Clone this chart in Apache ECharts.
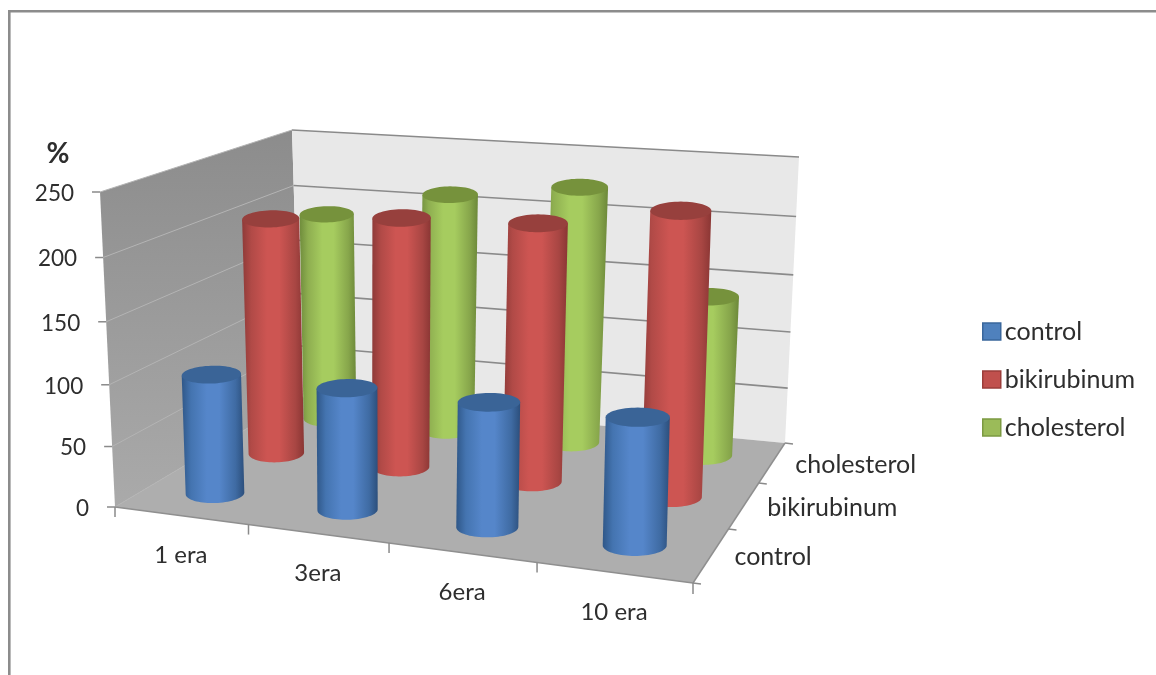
<!DOCTYPE html>
<html>
<head>
<meta charset="utf-8">
<style>html,body{margin:0;padding:0;background:#fff}#chart{width:1156px;height:675px}</style>
<script src="https://cdn.jsdelivr.net/npm/echarts@6/dist/echarts.min.js"></script>
</head>
<body>
<div id="chart"></div>
<script>
// Values
const eraLabels = ['1 era', '3era', '6era', '10 era'];
const seriesNames = ['control', 'bikirubinum', 'cholesterol'];
const control = [99, 99, 99, 99];
const bikirubinum = [203, 211, 214, 231];
const cholesterol = [187, 211, 224, 139];
const valueTicks = [0, 50, 100, 150, 200, 250];

// Corners of the box on the page: floor and top plane, front-left first, anticlockwise seen from above
const FLOOR = [[115, 507], [693, 583], [785, 443], [300, 397]];
const ROOF = [[100, 192], [701, 231], [799, 157], [292, 130]];
const VALUE_MAX = 250;

const FONT = 'Lato, "Open Sans", sans-serif';
const TEXT = '#2e2e2e';
const PALETTE = {
  control: { l: '#2f5788', s: '#4474b0', m: '#5586ca', t: '#3f6ba3', r: '#2c4f7c', cap: '#3a6497', box: '#4f81bd', edge: '#3a679c' },
  bikirubinum: { l: '#8e3a38', s: '#b14a47', m: '#cd5552', t: '#a84643', r: '#8a3634', cap: '#97403d', box: '#c0504d', edge: '#9b3d3a' },
  cholesterol: { l: '#6f8c3c', s: '#8eae50', m: '#a6cc5f', t: '#87a64b', r: '#6c8839', cap: '#76923c', box: '#9bbb59', edge: '#7c9a42' }
};

// Maps the unit square on to a quadrilateral
function quadMap(q) {
  const [[x0, y0], [x1, y1], [x2, y2], [x3, y3]] = q;
  const dx1 = x1 - x2, dx2 = x3 - x2, sx = x0 - x1 + x2 - x3;
  const dy1 = y1 - y2, dy2 = y3 - y2, sy = y0 - y1 + y2 - y3;
  const det = dx1 * dy2 - dx2 * dy1;
  const g = (sx * dy2 - dx2 * sy) / det;
  const h = (dx1 * sy - sx * dy1) / det;
  const a = x1 - x0 + g * x1, b = x3 - x0 + h * x3;
  const d = y1 - y0 + g * y1, e = y3 - y0 + h * y3;
  return (u, v) => {
    const w = g * u + h * v + 1;
    return [(a * u + b * v + x0) / w, (d * u + e * v + y0) / w];
  };
}
const floorAt = quadMap(FLOOR);
const roofAt = quadMap(ROOF);

// u along the categories, v into the depth, t is the height as a share of the value axis
function project(u, v, t) {
  // Evens out the category spacing towards the front, less so on the top plane
  const bend = u * (1 - u) * (1 - v);
  const f = floorAt(u + 0.05 * bend, v), r = roofAt(u + 0.02 * bend, v);
  const s = t - 0.05 * t * (1 - t);   // heights are foreshortened a little towards the floor
  return [f[0] + (r[0] - f[0]) * s, f[1] + (r[1] - f[1]) * s];
}

// Reads the share of the hidden axes that a data pair occupies
function axisShare(api, params, category, value) {
  const cs = params.coordSys;
  return {
    u: (api.coord([category, 0])[0] - cs.x) / cs.width,
    t: (cs.y + cs.height - api.coord([0, value])[1]) / cs.height
  };
}

function ellipsePoint(c, rx, ry, tilt, a) {
  const ex = rx * Math.cos(a), ey = ry * Math.sin(a);
  return [c[0] + ex * Math.cos(tilt) - ey * Math.sin(tilt), c[1] + ex * Math.sin(tilt) + ey * Math.cos(tilt)];
}

function ellipseArc(c, rx, ry, tilt, from, to, n) {
  const pts = [];
  for (let k = 0; k <= n; k++) pts.push(ellipsePoint(c, rx, ry, tilt, from + (to - from) * k / n));
  return pts;
}

function cylinderRenderer(depthIndex, colours) {
  const v = (depthIndex + 0.5) / seriesNames.length;
  const halfCell = 0.5 / eraLabels.length;
  return function (params, api) {
    const { u, t } = axisShare(api, params, api.value(0), api.value(1));
    const base = project(u, v, 0), top = project(u, v, t);
    const radius = (at) => {
      const a = project(u - halfCell, v, at), b = project(u + halfCell, v, at);
      return (14 + 0.12 * Math.hypot(b[0] - a[0], b[1] - a[1])) * (1 - 0.06 * v);
    };
    const rb = radius(0), rt = radius(t);
    const tilt = -0.055 * Math.max(0, 1 - top[0] / 560);
    const lower = ellipseArc(base, rb, rb * 0.33, tilt, Math.PI, 0, 36);
    const cap = ellipseArc(top, rt, rt * 0.3, tilt, 0, Math.PI * 2, 64);
    const topLeft = ellipsePoint(top, rt, rt * 0.3, tilt, Math.PI);
    const topRight = ellipsePoint(top, rt, rt * 0.3, tilt, 0);
    const body = [topLeft].concat(lower, [topRight]);
    return {
      type: 'group',
      children: [
        {
          type: 'polygon',
          shape: { points: body },
          style: {
            fill: {
              type: 'linear', x: 0, y: 0, x2: 1, y2: 0,
              colorStops: [
                { offset: 0, color: colours.l },
                { offset: 0.15, color: colours.s },
                { offset: 0.4, color: colours.m },
                { offset: 0.6, color: colours.m },
                { offset: 0.86, color: colours.t },
                { offset: 1, color: colours.r }
              ]
            }
          }
        },
        { type: 'polygon', shape: { points: cap }, style: { fill: colours.cap } }
      ]
    };
  };
}

// Walls, floor, gridlines, ticks and tick labels of the box
function renderBox(params, api) {
  const kids = [];
  const poly = (pts, fill) => kids.push({ type: 'polygon', shape: { points: pts }, style: { fill } });
  const line = (a, b, stroke, lineWidth) => kids.push({
    type: 'line',
    shape: { x1: a[0], y1: a[1], x2: b[0], y2: b[1] },
    style: { stroke, lineWidth }
  });
  const label = (text, x, y, align, font) => kids.push({
    type: 'text',
    style: { text, x, y, align, verticalAlign: 'middle', font, fill: TEXT }
  });

  poly([project(0, 0, 0), project(0, 0, 1), project(0, 1, 1), project(0, 1, 0)], {
    type: 'linear', x: 0.5, y: 0, x2: 0.5, y2: 1,
    colorStops: [{ offset: 0, color: '#8c8c8c' }, { offset: 1, color: '#aaaaaa' }]
  });
  poly([project(0, 1, 0), project(0, 1, 1), project(1, 1, 1), project(1, 1, 0)], '#e8e8e8');
  poly([project(0, 0, 0), project(1, 0, 0), project(1, 1, 0), project(0, 1, 0)], '#aeaeae');

  valueTicks.forEach((val) => {
    const { t } = axisShare(api, params, 0, val);
    const front = project(0, 0, t), corner = project(0, 1, t), back = project(1, 1, t);
    line(front, corner, '#b4b4b4', 1);
    if (val > 0) line(corner, back, '#8a8a8a', 1.6);
    line(front, [front[0] - 8, front[1]], '#8a8a8a', 1.5);
    label(String(val), front[0] - 26, front[1] + 1.5, 'right', '22.5px ' + FONT);
  });

  line(project(0, 0, 0), project(1, 0, 0), '#8f8f8f', 1.5);
  line(project(1, 0, 0), project(1, 1, 0), '#8f8f8f', 1.5);

  eraLabels.forEach((name, i) => {
    const edge = project(i / eraLabels.length, 0, 0);
    line(edge, [edge[0], edge[1] + 10], '#8a8a8a', 1.5);
    const mid = project((i + 0.5) / eraLabels.length, 0, 0);
    label(name, mid[0], mid[1] + 40, 'center', '24px ' + FONT);
  });
  const endTick = project(1, 0, 0);
  line(endTick, [endTick[0], endTick[1] + 11], '#8a8a8a', 1.5);

  seriesNames.forEach((name, j) => {
    const edge = project(1, j / seriesNames.length, 0);
    line(edge, [edge[0] + 8, edge[1] + 1], '#8a8a8a', 1.5);
    const mid = project(1, (j + 0.5) / seriesNames.length, 0);
    label(name, mid[0] + 23, mid[1] + 2.5, 'left', '25px ' + FONT);
  });
  const backTick = project(1, 1, 0);
  line(backTick, [backTick[0] + 8, backTick[1] + 1], '#8a8a8a', 1.5);

  const topCorner = project(0, 0, 1);
  label('%', topCorner[0] - 42, topCorner[1] - 38, 'center', 'bold 28px ' + FONT);

  return { type: 'group', children: kids };
}

const rows = { control, bikirubinum, cholesterol };
const cylinderSeries = seriesNames.map((name, j) => ({
  name,
  type: 'custom',
  coordinateSystem: 'cartesian2d',
  z: 5 - j,
  silent: true,
  encode: { x: 0, y: 1 },
  itemStyle: { color: PALETTE[name].box },
  renderItem: cylinderRenderer(j, PALETTE[name]),
  data: rows[name].map((value, i) => [i, value])
}));

const chart = echarts.init(document.getElementById('chart'), null, { renderer: 'canvas' });
chart.setOption({
  animation: false,
  backgroundColor: '#ffffff',
  grid: { left: 0, top: 0, width: 400, height: 250 },
  xAxis: { type: 'category', data: eraLabels, show: false },
  yAxis: { type: 'value', min: 0, max: VALUE_MAX, interval: 50, show: false },
  legend: {
    left: 982,
    top: 319,
    padding: 0,
    orient: 'vertical',
    align: 'left',
    itemWidth: 18,
    itemHeight: 17,
    itemGap: 23,
    textStyle: { fontFamily: FONT, fontSize: 25, lineHeight: 17, color: TEXT, padding: [0, 0, 0, -1] },
    data: seriesNames.map((name) => ({
      name,
      icon: 'rect',
      itemStyle: { color: PALETTE[name].box, borderColor: PALETTE[name].edge, borderWidth: 1.5 }
    }))
  },
  graphic: [
    { type: 'rect', silent: true, shape: { x: 8, y: 10, width: 1148, height: 2.6 }, style: { fill: '#8c8c8c' } },
    { type: 'rect', silent: true, shape: { x: 8, y: 10, width: 2.6, height: 665 }, style: { fill: '#8c8c8c' } }
  ],
  series: [
    {
      name: 'box',
      type: 'custom',
      coordinateSystem: 'cartesian2d',
      z: 1,
      silent: true,
      encode: { x: 0, y: 1 },
      renderItem: renderBox,
      data: [[0, 0]]
    }
  ].concat(cylinderSeries)
});
</script>
</body>
</html>
